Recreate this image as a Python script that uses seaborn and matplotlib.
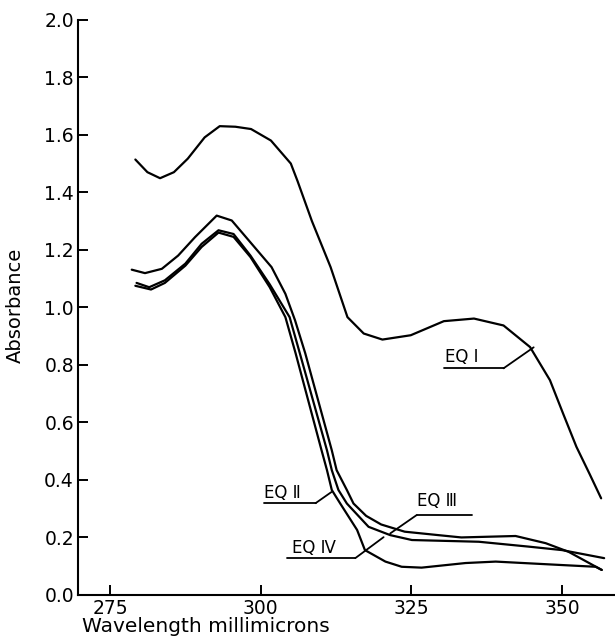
import numpy as np
import pandas as pd
import matplotlib
matplotlib.use("Agg")
import matplotlib.pyplot as plt
import seaborn as sns

# ---------------------------------------------------------------
# data (wavelength in millimicrons, absorbance)
# ---------------------------------------------------------------
eq1_x = [279.2, 281.2, 283.3, 285.6, 287.9, 290.7, 293.2, 295.8, 298.4, 301.7,
         305.0, 306.1, 308.5, 311.6, 314.4, 317.1, 320.2, 324.9, 330.4,
         335.4, 340.3, 344.7, 348.0, 350.2, 352.4, 354.6, 356.5]
eq1_y = [1.514, 1.470, 1.449, 1.470, 1.517, 1.591, 1.630, 1.628, 1.620, 1.580,
         1.500, 1.440, 1.300, 1.140, 0.966, 0.909, 0.888, 0.903, 0.952,
         0.961, 0.937, 0.862, 0.747, 0.630, 0.515, 0.420, 0.336]

# upper of the lower three (highest peak)
eqa_x = [278.6, 280.8, 283.6, 286.3, 289.1, 292.7, 295.2, 298.5, 301.8, 304.1,
         305.7, 307.4, 311.8, 312.6, 314.3, 315.4, 317.5, 320.0, 323.9, 329.5,
         333.3, 342.3, 347.3, 351.1, 356.6]
eqa_y = [1.131, 1.119, 1.134, 1.180, 1.244, 1.319, 1.302, 1.221, 1.140, 1.047,
         0.955, 0.840, 0.503, 0.434, 0.365, 0.318, 0.275, 0.245, 0.220, 0.208,
         0.200, 0.205, 0.180, 0.150, 0.087]

eqb_x = [279.4, 281.5, 284.1, 287.5, 290.2, 293.0, 295.5, 298.3, 301.5, 304.8,
         306.5, 311.0, 311.8, 312.9, 314.3, 317.9, 321.5, 325.1, 336.2, 344.5,
         350.0, 357.0]
eqb_y = [1.085, 1.070, 1.094, 1.152, 1.221, 1.268, 1.255, 1.180, 1.080, 0.966,
         0.840, 0.503, 0.434, 0.365, 0.318, 0.237, 0.208, 0.191, 0.185, 0.168,
         0.156, 0.128]

# EQ II - steepest fall, lowest tail
eqc_x = [279.2, 281.8, 284.1, 287.5, 290.2, 293.0, 295.5, 298.3, 301.5, 304.1,
         305.8, 310.1, 311.0, 311.8, 313.2, 316.0, 317.3, 320.7, 323.4, 326.7,
         334.0, 339.0, 350.0, 355.6, 356.6]
eqc_y = [1.075, 1.062, 1.085, 1.145, 1.210, 1.260, 1.245, 1.175, 1.070, 0.966,
         0.840, 0.503, 0.434, 0.365, 0.318, 0.226, 0.156, 0.116, 0.098, 0.095,
         0.111, 0.116, 0.104, 0.098, 0.087]

x_ticks = [275, 300, 325, 350]
y_ticks = [0.0, 0.2, 0.4, 0.6, 0.8, 1.0, 1.2, 1.4, 1.6, 1.8, 2.0]

# label text, text anchor, underline, leader end
labels = ["EQ \u2160", "EQ \u2161", "EQ \u2162", "EQ \u2163"]
label_xy = [(330.6, 0.826), (300.5, 0.354), (325.9, 0.326), (305.2, 0.163)]
underline_x = [(330.4, 340.3), (300.5, 309.1), (325.9, 335.0), (304.3, 315.7)]
underline_y = [0.788, 0.319, 0.278, 0.128]
leader_end = [(345.3, 0.861), (311.75, 0.358), (321.5, 0.214), (320.4, 0.201)]
leader_from_left = [False, False, True, False]

# ---------------------------------------------------------------
sns.set_style("ticks")
plt.rcParams["font.family"] = ["DejaVu Sans"]
plt.rcParams["text.color"] = "black"
plt.rcParams["axes.labelcolor"] = "black"
plt.rcParams["xtick.color"] = "black"
plt.rcParams["ytick.color"] = "black"

fig = plt.figure(figsize=(6.15, 6.37), dpi=100)
ax = fig.add_axes([0.127, 0.066, 0.873, 0.903])

for xs, ys in [(eq1_x, eq1_y), (eqa_x, eqa_y), (eqb_x, eqb_y), (eqc_x, eqc_y)]:
    d = pd.DataFrame({"wl": xs, "ab": ys})
    sns.lineplot(data=d, x="wl", y="ab", ax=ax, color="black", lw=1.6,
                 estimator=None, sort=False)

for i, txt in enumerate(labels):
    ax.text(label_xy[i][0], label_xy[i][1], txt, fontsize=12, ha="left",
            va="center", color="black")
    x0, x1 = underline_x[i]
    yy = underline_y[i]
    ax.plot([x0, x1], [yy, yy], color="black", lw=1.3)
    start = x0 if leader_from_left[i] else x1
    ax.plot([start, leader_end[i][0]], [yy, leader_end[i][1]], color="black", lw=1.3)

ax.set_xlim(269.7, 358.8)
ax.set_ylim(0, 2.0)
ax.set_xticks(x_ticks)
ax.set_yticks(y_ticks)
ax.set_yticklabels([f"{v:.1f}" for v in y_ticks])
ax.tick_params(direction="in", length=7, width=1.4, labelsize=13.5, pad=3,
               colors="black")
for s in ["top", "right"]:
    ax.spines[s].set_visible(False)
for s in ["left", "bottom"]:
    ax.spines[s].set_linewidth(1.5)
    ax.spines[s].set_color("black")

ax.set_ylabel("Absorbance", fontsize=14, labelpad=4, color="black")
ax.yaxis.set_label_coords(-0.1, 0.504)
ax.set_xlabel("")
fig.text(82 / 615, 1.5 / 637, "Wavelength millimicrons", fontsize=14.5,
         ha="left", va="bottom", color="black")

fig.savefig("out.png", dpi=100)
